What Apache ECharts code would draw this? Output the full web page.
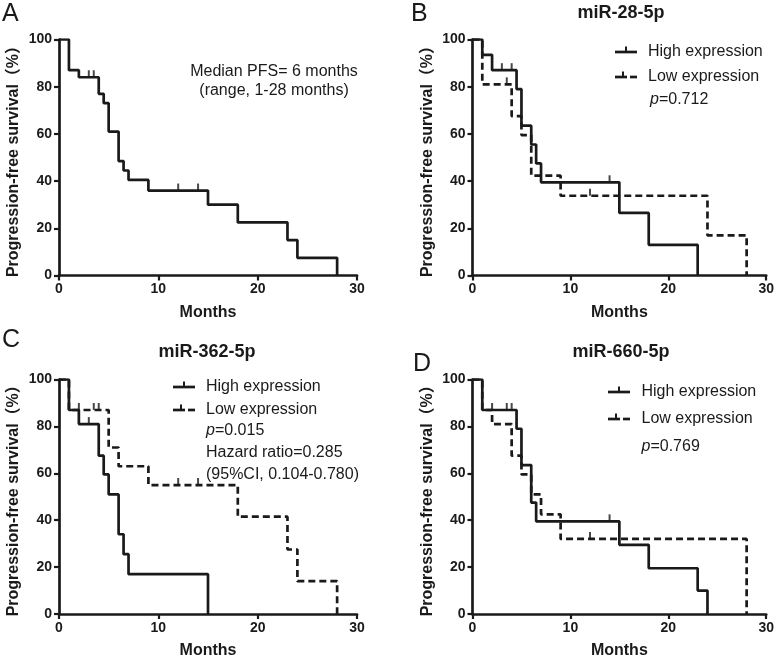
<!DOCTYPE html>
<html>
<head>
<meta charset="utf-8">
<script src="https://cdn.jsdelivr.net/npm/echarts@6/dist/echarts.min.js"></script>
<style>
html,body{margin:0;padding:0;background:#fff;}
#main{width:777px;height:660px;}
</style>
</head>
<body>
<div id="main"></div>
<script>
// ---- Data ----
const xTicks = [0, 10, 20, 30];
const yTicks = [0, 20, 40, 60, 80, 100];

// Panel A: all patients
const aTimes = [0, 1, 2, 4, 4.5, 5, 6, 6.5, 7, 9, 15, 18, 23, 24, 28];
const aSurv  = [100, 87, 84, 77, 73, 61, 48.5, 44.5, 40.5, 36, 30, 22.5, 15, 7.5, 0];
const aCensT = [3, 3.5, 12, 14];
const aCensS = [84, 84, 36, 36];

// Panel B: miR-28-5p
const bHighTimes = [0, 1, 2, 4.5, 5, 6, 6.5, 7, 15, 18, 23];
const bHighSurv  = [100, 93.5, 87, 79, 63.5, 55.5, 47.5, 39.5, 26.5, 13, 0];
const bHighCensT = [3, 4, 14];
const bHighCensS = [87, 87, 39.5];
const bLowTimes  = [0, 1, 4, 5, 6, 9, 24, 28];
const bLowSurv   = [100, 81, 67.5, 59.5, 42.3, 33.8, 17, 0];
const bLowCensT  = [3.5, 12];
const bLowCensS  = [81, 33.8];

// Panel C: miR-362-5p
const cHighTimes = [0, 1, 2, 4, 4.5, 5, 6, 6.5, 7, 15];
const cHighSurv  = [100, 87, 81, 67.5, 59.5, 51, 34, 25.5, 17, 0];
const cHighCensT = [3];
const cHighCensS = [81];
const cLowTimes  = [0, 1, 5, 6, 9, 18, 23, 24, 28];
const cLowSurv   = [100, 87, 71, 63, 55, 41.5, 27.5, 14, 0];
const cLowCensT  = [2, 3.5, 4, 12, 14];
const cLowCensS  = [87, 87, 87, 55, 55];

// Panel D: miR-660-5p
const dHighTimes = [0, 1, 4.5, 5, 6, 6.5, 15, 18, 23, 24];
const dHighSurv  = [100, 87, 79, 63.5, 47.5, 39.5, 29.5, 19.5, 10, 0];
const dHighCensT = [3.5, 4, 14];
const dHighCensS = [87, 87, 39.5];
const dLowTimes  = [0, 1, 2, 4, 5, 6, 7, 9, 28];
const dLowSurv   = [100, 87, 81, 67.5, 59.5, 51, 42.5, 32, 0];
const dLowCensT  = [2, 12];
const dLowCensS  = [87, 32];

const titles = ['', 'miR-28-5p', 'miR-362-5p', 'miR-660-5p'];
const letters = ['A', 'B', 'C', 'D'];
const xName = 'Months';
const yName = 'Progression-free survival（%）';

// ---- Helpers ----
const INK = '#1a1a1a';
const FONT = '"Liberation Sans", Arial, "Noto Sans CJK SC", sans-serif';
function pairs(t, s) { return t.map((v, i) => [v, s[i]]); }

const grids = [
  {left: 59, top: 39.5, width: 298, height: 236},
  {left: 472.5, top: 39.5, width: 298, height: 236},
  {left: 59, top: 379.5, width: 298, height: 236},
  {left: 472.5, top: 379.5, width: 298, height: 236}
];

const xAxes = grids.map((g, i) => ({
  type: 'value', gridIndex: i, min: 0, max: 30, interval: 10,
  name: xName, nameLocation: 'middle', nameGap: 29,
  nameTextStyle: {fontFamily: FONT, fontWeight: 'bold', fontSize: 16, color: INK},
  axisLine: {show: true, onZero: false, lineStyle: {color: INK, width: 2.7}},
  axisTick: {show: true, length: 5, inside: false, lineStyle: {color: INK, width: 2.2}},
  axisLabel: {fontFamily: FONT, fontWeight: 'bold', fontSize: 14, color: INK, margin: 7,
              formatter: v => xTicks.includes(v) ? String(v) : ''},
  splitLine: {show: false}
}));
const yAxes = grids.map((g, i) => ({
  type: 'value', gridIndex: i, min: 0, max: 100, interval: 20,
  name: yName, nameLocation: 'middle', nameGap: 37, nameRotate: 90,
  nameTextStyle: {fontFamily: FONT, fontWeight: 'bold', fontSize: 16, color: INK},
  axisLine: {show: true, onZero: false, lineStyle: {color: INK, width: 2.7}},
  axisTick: {show: true, length: 5, inside: false, lineStyle: {color: INK, width: 2.2}},
  axisLabel: {fontFamily: FONT, fontWeight: 'bold', fontSize: 14, color: INK, margin: 7,
              formatter: v => yTicks.includes(v) ? String(v) : ''},
  splitLine: {show: false}
}));

function curve(i, t, s, dashed) {
  return {
    type: 'line', xAxisIndex: i, yAxisIndex: i, step: 'end', symbol: 'none',
    data: pairs(t, s), silent: true,
    lineStyle: {color: INK, width: 2.7, type: dashed ? [7, 4] : 'solid'}, z: 3
  };
}
function censors(i, t, s) {
  return {
    type: 'scatter', xAxisIndex: i, yAxisIndex: i, data: pairs(t, s), silent: true,
    symbol: 'rect', symbolSize: [2, 7], symbolOffset: [0, -3.5],
    itemStyle: {color: INK}, z: 4
  };
}

const series = [
  curve(0, aTimes, aSurv, false), censors(0, aCensT, aCensS),
  curve(1, bLowTimes, bLowSurv, true), censors(1, bLowCensT, bLowCensS),
  curve(1, bHighTimes, bHighSurv, false), censors(1, bHighCensT, bHighCensS),
  curve(2, cLowTimes, cLowSurv, true), censors(2, cLowCensT, cLowCensS),
  curve(2, cHighTimes, cHighSurv, false), censors(2, cHighCensT, cHighCensS),
  curve(3, dLowTimes, dLowSurv, true), censors(3, dLowCensT, dLowCensS),
  curve(3, dHighTimes, dHighSurv, false), censors(3, dHighCensT, dHighCensS)
];

// ---- Annotations (graphic) ----
const graphic = [];
function txt(x, y, text, opts) {
  graphic.push(Object.assign({
    type: 'text', x: x, y: y, silent: true,
    style: Object.assign({text: text, fill: INK, font: '16px ' + FONT, textVerticalAlign: 'middle'}, opts || {})
  }));
}
function richTxt(x, y, text) {
  graphic.push({
    type: 'text', x: x, y: y, silent: true,
    style: {text: text, fill: INK, fontFamily: FONT, fontSize: 16, textVerticalAlign: 'middle',
      rich: {i: {fontStyle: 'italic', fontFamily: FONT, fontSize: 16, fill: INK}}}
  });
}
function seg(x1, y, x2) {
  graphic.push({type: 'line', silent: true, shape: {x1: x1, y1: y, x2: x2, y2: y},
    style: {stroke: INK, lineWidth: 2.7}});
}
function tick(x, y) {
  graphic.push({type: 'line', silent: true, shape: {x1: x, y1: y, x2: x, y2: y - 5.5},
    style: {stroke: INK, lineWidth: 2}});
}
function legendSolid(x, y) { seg(x, y, x + 22); tick(x + 11, y); }
function legendDashed(x, y) { seg(x, y, x + 12); seg(x + 15, y, x + 22); tick(x + 8, y); }

// Panel letters
txt(2, 14, letters[0], {font: '25px ' + FONT});
txt(411, 14, letters[1], {font: '25px ' + FONT});
txt(2, 340, letters[2], {font: '25px ' + FONT});
txt(413, 364, letters[3], {font: '25px ' + FONT});

// Titles
txt(621, 13, titles[1], {font: 'bold 18px ' + FONT, textAlign: 'center'});
txt(207, 352, titles[2], {font: 'bold 18px ' + FONT, textAlign: 'center'});
txt(621, 352, titles[3], {font: 'bold 18px ' + FONT, textAlign: 'center'});

// Panel A annotation
txt(274, 71.5, 'Median PFS= 6 months', {textAlign: 'center'});
txt(274, 90.5, '(range, 1-28 months)', {textAlign: 'center'});

// Panel B legend
legendSolid(615, 52); txt(648, 52, 'High expression');
legendDashed(615, 77); txt(648, 77, 'Low expression');
richTxt(650, 100, '{i|p}=0.712');

// Panel C legend
legendSolid(173, 387); txt(206, 387, 'High expression');
legendDashed(173, 410); txt(206, 410, 'Low expression');
richTxt(206, 431, '{i|p}=0.015');
txt(206, 453, 'Hazard ratio=0.285');
txt(206, 474.5, '(95%CI, 0.104-0.780)');

// Panel D legend
legendSolid(608, 392); txt(641.5, 392, 'High expression');
legendDashed(608, 419); txt(641.5, 419, 'Low expression');
richTxt(641.5, 446.5, '{i|p}=0.769');

const chart = echarts.init(document.getElementById('main'), null, {renderer: 'canvas'});
chart.setOption({
  animation: false,
  backgroundColor: '#fff',
  grid: grids,
  xAxis: xAxes,
  yAxis: yAxes,
  series: series,
  graphic: graphic
});
</script>
</body>
</html>
